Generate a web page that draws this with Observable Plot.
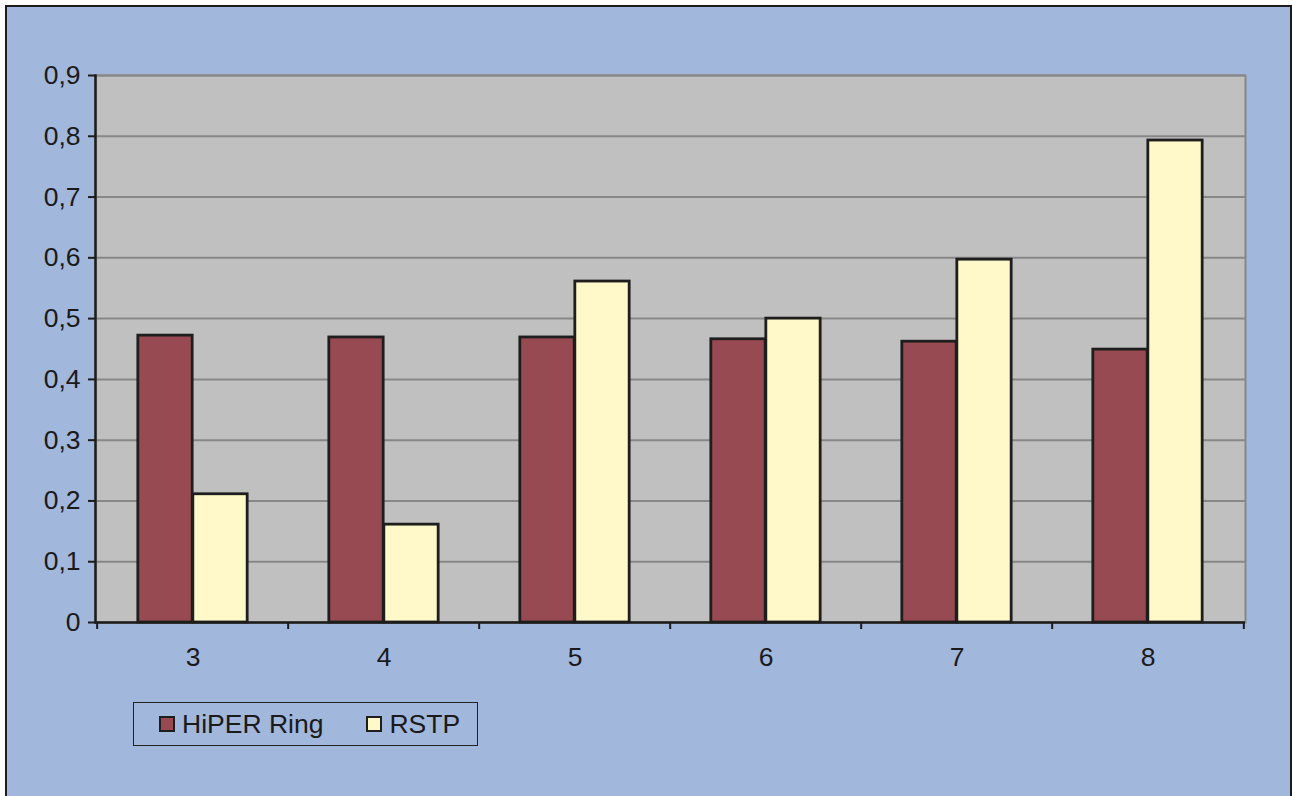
<!DOCTYPE html>
<html>
<head>
<meta charset="utf-8">
<script src="https://cdn.jsdelivr.net/npm/d3@7"></script>
<script src="https://cdn.jsdelivr.net/npm/@observablehq/plot@0.6"></script>
<style>
  html, body { margin: 0; padding: 0; background: #ffffff; overflow: hidden; }
  body { font-family: "Liberation Sans", Arial, sans-serif; width: 1292px; height: 796px; position: relative; }
  #panel { position: absolute; left: 5px; top: 5px; width: 1287px; height: 820px;
           border: 2px solid #1c1c1c; background: #a2b7dc; box-sizing: border-box; }
  #chart { position: absolute; left: 0; top: 0; }
  #legend { position: absolute; left: 133px; top: 702px; width: 345px; height: 44px;
            border: 1.5px solid #222; box-sizing: border-box; display: flex; align-items: center;
            font-size: 26.5px; color: #1a1a1a; }
  .item { display: flex; align-items: center; }
  .sw { width: 12px; height: 12px; border: 2px solid #1e1e1e; margin-right: 7px; }
</style>
</head>
<body>
<div id="panel"></div>
<div id="chart"></div>
<div id="legend"></div>
<script>
const categories = ["3", "4", "5", "6", "7", "8"];
const series = ["HiPER Ring", "RSTP"];
const hiperValues = [0.472, 0.469, 0.469, 0.466, 0.462, 0.449];
const rstpValues = [0.211, 0.161, 0.561, 0.500, 0.597, 0.793];
const yTicks = [0, 0.1, 0.2, 0.3, 0.4, 0.5, 0.6, 0.7, 0.8, 0.9];
const colors = ["#974a51", "#fff8c8"];

const hiperData = categories.map((c, i) => ({cat: c, series: series[0], value: hiperValues[i]}));
const rstpData = categories.map((c, i) => ({cat: c, series: series[1], value: rstpValues[i]}));

const W = 1292, H = 700;
const mL = 95, mR = 47, mT = 75, mB = H - 622;
const step = (W - mL - mR) / categories.length;
const barW = 55;
const outer = (step - 2 * barW) / 2;

const fmt = d => d === 0 ? "0" : d.toFixed(1).replace(".", ",");

const chart = Plot.plot({
  width: W,
  height: H,
  marginLeft: mL,
  marginRight: mR,
  marginTop: mT,
  marginBottom: mB,
  style: {background: "transparent", fontFamily: "Liberation Sans, Arial, sans-serif", fontSize: "26px", color: "#1a1a1a", overflow: "visible"},
  x: {domain: categories, padding: 0},
  y: {domain: [0, 0.9]},
  marks: [
    Plot.frame({fill: "#c0c0c0", stroke: "#878787", strokeWidth: 2}),
    Plot.gridY(yTicks, {stroke: "#878787", strokeOpacity: 1, strokeWidth: 2}),
    Plot.barY(hiperData, {x: "cat", y: "value", fill: colors[0], stroke: "#1e1e1e", strokeWidth: 2.8,
      insetLeft: outer, insetRight: step - outer - barW}),
    Plot.barY(rstpData, {x: "cat", y: "value", fill: colors[1], stroke: "#1e1e1e", strokeWidth: 2.8,
      insetLeft: outer + barW, insetRight: outer}),
    Plot.frame({anchor: "left", stroke: "#1c1c1c", strokeWidth: 2.5}),
    Plot.ruleY([0], {stroke: "#1c1c1c", strokeWidth: 2.5}),
    Plot.ruleX(categories, {x: d => d, y1: 0, y2: -0.0115, dx: -step / 2, stroke: "#1c1c1c", strokeWidth: 2}),
    Plot.ruleX(categories.slice(-1), {x: d => d, y1: 0, y2: -0.0115, dx: step / 2, stroke: "#1c1c1c", strokeWidth: 2}),
    Plot.axisY(yTicks, {tickFormat: fmt, tickSize: 7, tickPadding: 8, stroke: "#1c1c1c", strokeWidth: 2, fill: "#1a1a1a", fontSize: 26.5, label: null}),
    Plot.axisX({tickSize: 0, tickPadding: 25, fill: "#1a1a1a", fontSize: 26.5, label: null})
  ]
});
document.getElementById("chart").appendChild(chart);

const legend = document.getElementById("legend");
series.forEach((s, i) => {
  const item = document.createElement("div");
  item.className = "item";
  item.style.marginLeft = i === 0 ? "25px" : "43px";
  const sw = document.createElement("div");
  sw.className = "sw";
  sw.style.background = colors[i];
  const t = document.createElement("span");
  t.textContent = s;
  item.appendChild(sw);
  item.appendChild(t);
  legend.appendChild(item);
});
</script>
</body>
</html>
